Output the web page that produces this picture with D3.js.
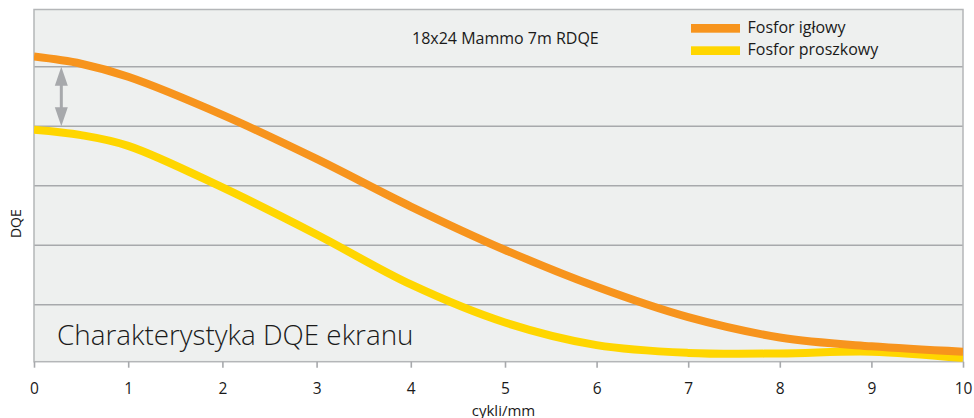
<!DOCTYPE html>
<html><head><meta charset="utf-8">
<script src="https://cdn.jsdelivr.net/npm/d3@7"></script>
<style>
html,body{margin:0;padding:0;background:#fff;}
svg{display:block;font-family:"Open Sans","Noto Sans",sans-serif;}
</style></head>
<body><svg id="c" width="974" height="418"></svg>
<script>
const freqIglowy = [0,0.5,1,2,3,4,5,6,7,8,9,10];
const fosforIglowy = [5.17,5.05,4.83,4.19,3.45,2.65,1.92,1.30,0.79,0.45,0.30,0.21];
const freqProszkowy = [0,0.5,1,2,3,4,5,6,7,8,9,10];
const fosforProszkowy = [3.94,3.85,3.67,2.97,2.18,1.34,0.70,0.32,0.19,0.18,0.21,0.10];
const xTicks = [0,1,2,3,4,5,6,7,8,9,10];
const gridValues = [1,2,3,4,5];
const seriesNames = ["Fosfor igłowy","Fosfor proszkowy"];
const seriesColors = ["#f7941d","#ffd600"];
const chartTitle = "18x24 Mammo 7m RDQE";
const chartSubtitle = "Charakterystyka DQE ekranu";
const xLabel = "cykli/mm";
const yLabel = "DQE";
const arrowFrom = 4.0, arrowTo = 5.0, arrowX = 0.29;

const svg = d3.select("#c");
const L = 34, R = 963, T = 9.5, B = 361.7;
const x = d3.scaleLinear().domain([0,5,10]).range([L,505,R]);
const y = d3.scaleLinear().domain([1,5]).range([304.7,66.7]);

svg.append("defs").append("clipPath").attr("id","clip")
  .append("rect").attr("x",L).attr("y",T).attr("width",R-L).attr("height",B-T);

svg.append("rect").attr("x",L).attr("y",T).attr("width",R-L).attr("height",B-T)
  .attr("fill","#eef0ef").attr("stroke","none");

svg.append("g").selectAll("line").data(gridValues).join("line")
  .attr("x1",L).attr("x2",R).attr("y1",d=>y(d)).attr("y2",d=>y(d))
  .attr("stroke","#a7a9ac").attr("stroke-width",1.6);

// frame
svg.append("rect").attr("x",L).attr("y",T).attr("width",R-L).attr("height",B-T)
  .attr("fill","none").attr("stroke","#b4b6b8").attr("stroke-width",1.5);

// x axis
const xAxis = d3.axisBottom(x).tickValues(xTicks).tickSize(6).tickPadding(15.5).tickFormat(d3.format("d"));
const gx = svg.append("g").attr("transform",`translate(0,${B})`).call(xAxis);
gx.select(".domain").remove();
gx.selectAll(".tick line").attr("stroke","#a7a9ac").attr("stroke-width",1.6);
gx.selectAll(".tick text").attr("fill","#1a1a1a").style("font-size","15.5px")
  .style("font-family","'Open Sans','Noto Sans',sans-serif");

// arrow
const ag = svg.append("g").attr("fill","#a7a9ac");
const ax = x(arrowX), ay1 = y(arrowTo), ay2 = y(arrowFrom);
ag.append("rect").attr("x",ax-1.5).attr("y",ay1+10).attr("width",3).attr("height",ay2-ay1-20);
ag.append("path").attr("d",`M${ax},${ay1} L${ax-6.5},${ay1+19} L${ax+6.5},${ay1+19} Z`);
ag.append("path").attr("d",`M${ax},${ay2} L${ax-6.5},${ay2-19} L${ax+6.5},${ay2-19} Z`);

// lines
const line = d3.line().x(d=>x(d[0])).y(d=>y(d[1])).curve(d3.curveCatmullRom.alpha(0.5));
const lg = svg.append("g").attr("clip-path","url(#clip)");
const seriesData = [freqIglowy.map((f,k)=>[f,fosforIglowy[k]]), freqProszkowy.map((f,k)=>[f,fosforProszkowy[k]])];
[1,0].forEach(i=>{
  lg.append("path").datum(seriesData[i])
    .attr("d",line).attr("fill","none").attr("stroke",seriesColors[i])
    .attr("stroke-width",8);
});

// title
svg.append("text").attr("x",412).attr("y",44).text(chartTitle)
  .attr("fill","#1a1a1a").style("font-size","16px");

// legend
const leg = svg.append("g");
seriesNames.forEach((n,i)=>{
  leg.append("rect").attr("x",691).attr("y",24+i*22.3).attr("width",49).attr("height",8.7).attr("fill",seriesColors[i]);
  leg.append("text").attr("x",747.5).attr("y",33+i*22.3).text(n).attr("fill","#1a1a1a").style("font-size","16px");
});

// subtitle
svg.append("text").attr("x",57).attr("y",345).text(chartSubtitle)
  .attr("fill","#1a1a1a").style("font-size","27.8px").style("font-weight","300");

// axis labels
svg.append("text").attr("x",503.5).attr("y",415.5).attr("text-anchor","middle").text(xLabel)
  .attr("fill","#1a1a1a").style("font-size","15px");
svg.append("text").attr("transform","translate(20.5,223.7) rotate(-90)").attr("text-anchor","middle").text(yLabel)
  .attr("fill","#1a1a1a").style("font-size","14px");
</script></body></html>
